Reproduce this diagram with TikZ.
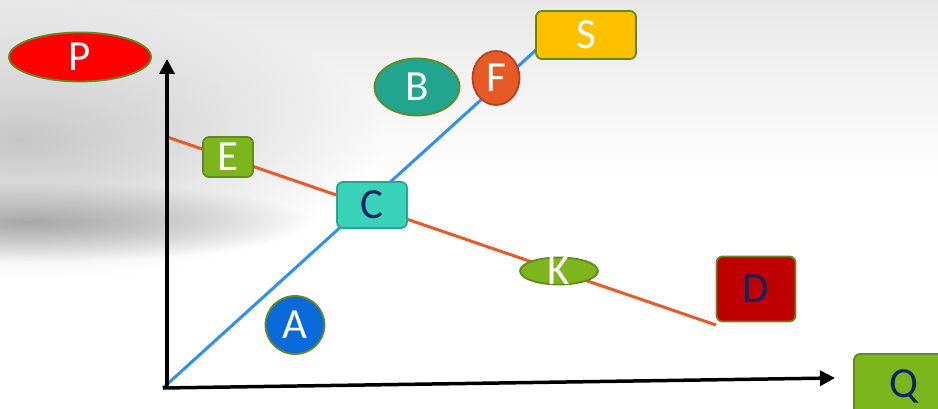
\documentclass[tikz,border=0pt]{standalone}
\usepackage{fontspec}
\setmainfont{Carlito}
\usetikzlibrary{shapes.geometric,arrows.meta,fadings}
\definecolor{olivebd}{HTML}{628A1E}
\definecolor{grfill}{HTML}{7CB51C}
\definecolor{tealB}{HTML}{22A58E}
\definecolor{blueA}{HTML}{0A6AD9}
\definecolor{orF}{HTML}{E85A25}
\definecolor{orFbd}{HTML}{B5431F}
\definecolor{yelS}{HTML}{FFC000}
\definecolor{turC}{HTML}{38D3B8}
\definecolor{turCbd}{HTML}{24A793}
\definecolor{redD}{HTML}{C00000}
\definecolor{navy}{HTML}{0B2463}
\definecolor{blueline}{HTML}{2E90F0}
\definecolor{orline}{HTML}{EA5A28}
\tikzfading[name=softrad, inner color=transparent!0, outer color=transparent!100]
\tikzset{
  lbl/.style={font=\fontsize{43}{50}\selectfont, inner sep=0pt, line width=1.8pt},
  ell/.style={lbl, ellipse},
  rbox/.style={lbl, rectangle, rounded corners=6pt},
  axis/.style={line width=3.5pt, -{Triangle[length=15pt,width=15pt]}},
}
\begin{document}
\begin{tikzpicture}[x=1pt,y=-1pt]
\useasboundingbox (0,0) rectangle (938,409);
% background
\fill[white] (0,0) rectangle (938,409);
\shade[top color=black!9, bottom color=white] (0,0) rectangle (938,180);
\fill[black!22, path fading=softrad] (-340,0) rectangle (380,280);
\fill[black!34, path fading=softrad] (-250,182) rectangle (310,262);
% coordinates
\coordinate (O) at (163,388);
\coordinate (yTop) at (167,59);
\coordinate (xEnd) at (835,378);
\coordinate (dStart) at (167,137);
\coordinate (dEnd) at (716,325);
\coordinate (sEnd) at (536,50);
% lines
\draw[blueline, line width=3pt] (O) -- (sEnd);
\draw[orline, line width=3pt] (dStart) -- (dEnd);
\draw[axis] (167,388) -- (yTop);
\draw[axis] (O) -- (xEnd);
% nodes
\node[ell, fill=red, draw=olivebd, text=white, minimum width=142pt, minimum height=49pt] (P) at (80,57) {P};
\node[rbox, fill=grfill, draw=olivebd, text=white, minimum width=50pt, minimum height=40pt] (E) at (228,157) {E};
\node[rbox, fill=turC, draw=turCbd, text=navy, minimum width=70pt, minimum height=46pt] (C) at (372,205) {C};
\node[ell, fill=tealB, draw=olivebd, text=white, minimum width=85pt, minimum height=57pt] (B) at (417,87) {B};
\node[ell, fill=blueA, draw=olivebd, text=white, minimum width=59pt, minimum height=58pt] (A) at (295,325) {A};
\node[ell, fill=orF, draw=orFbd, text=white, minimum width=47pt, minimum height=54pt] (F) at (496,78) {F};
\node[rbox, fill=yelS, draw=olivebd, text=white, minimum width=100pt, minimum height=48pt] (S) at (586,35) {S};
\node[ell, fill=grfill, draw=olivebd, minimum width=78pt, minimum height=27pt] (K) at (559,271) {};
\node[lbl, text=white] at (K) {K};
\node[rbox, fill=redD, draw=olivebd, text=navy, minimum width=79pt, minimum height=65pt] (D) at (756,289) {D};
\node[rbox, fill=grfill, draw=olivebd, text=navy, minimum width=100pt, minimum height=64pt] (Q) at (904,386) {Q};
\end{tikzpicture}
\end{document}
